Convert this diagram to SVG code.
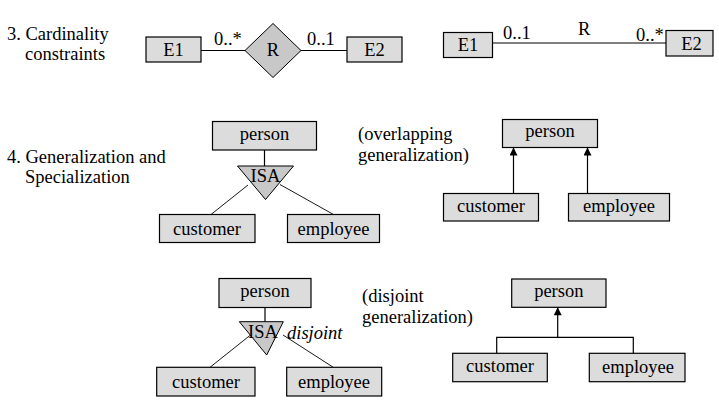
<svg xmlns="http://www.w3.org/2000/svg" width="719" height="406" viewBox="0 0 719 406">
<defs>
<marker id="arr" viewBox="0 0 10 10" refX="10" refY="5" markerWidth="10" markerHeight="8" markerUnits="userSpaceOnUse" orient="auto">
<path d="M0,0 L10,5 L0,10 z" fill="#000"/>
</marker>
</defs>
<style>
text{font-family:"Liberation Serif","Times New Roman",serif;font-size:18.5px;fill:#000}
.c{text-anchor:middle}
.box{fill:#dcdcdc;stroke:#000;stroke-width:1.2}
.shape{fill:#c8c8c8;stroke:#000;stroke-width:1}
.ln{stroke:#000;stroke-width:1.2;fill:none}
.thin{stroke:#000;stroke-width:0.9;fill:none}
.it{font-style:italic}
</style>
<rect width="719" height="406" fill="#fff"/>

<g id="labels">
<text x="7" y="40">3. Cardinality</text>
<text x="25" y="60">constraints</text>
<text x="7" y="163">4. Generalization and</text>
<text x="25" y="183">Specialization</text>
<text x="358" y="140">(overlapping</text>
<text x="358" y="161">generalization)</text>
<text x="362" y="302">(disjoint</text>
<text x="362" y="323">generalization)</text>
</g>

<g id="connectors">
<line class="ln" x1="201" y1="50.5" x2="245" y2="50.5"/>
<line class="ln" x1="301" y1="50.5" x2="347" y2="50.5"/>
<line class="ln" x1="492.5" y1="43" x2="666" y2="43"/>
<line class="ln" x1="264.5" y1="150" x2="264.5" y2="166"/>
<line class="thin" x1="248" y1="185" x2="211" y2="214.5"/>
<line class="thin" x1="280" y1="184.5" x2="333.5" y2="214.5"/>
<line class="ln" x1="513.5" y1="193.5" x2="513.5" y2="147.5" marker-end="url(#arr)"/>
<line class="ln" x1="587.5" y1="193.5" x2="587.5" y2="147.5" marker-end="url(#arr)"/>
<line class="ln" x1="265" y1="307.5" x2="265" y2="321.7"/>
<line class="thin" x1="250.5" y1="335" x2="210" y2="367.3"/>
<line class="thin" x1="283" y1="335" x2="333.3" y2="367.3"/>
<polyline class="ln" points="496.7,353.3 496.7,337.3 633.3,337.3 633.3,353.3"/>
<line class="ln" x1="557.7" y1="337.3" x2="557.7" y2="307.3" marker-end="url(#arr)"/>
<text x="214" y="45">0..*</text>
<text x="307" y="45">0..1</text>
<text x="503" y="39">0..1</text>
<text x="578" y="35">R</text>
<text x="636" y="41">0..*</text>
</g>

<g id="e1-a"><rect class="box" x="146" y="37" width="55" height="25"/><text class="c" x="173.5" y="55.5">E1</text></g>
<g id="r-a"><polygon class="shape" points="245,50.5 273,23.5 301,50.5 273,77.5"/><text class="c" x="273" y="56">R</text></g>
<g id="e2-a"><rect class="box" x="347" y="37" width="55" height="25"/><text class="c" x="374.5" y="55.5">E2</text></g>

<g id="e1-b"><rect class="box" x="443.5" y="32.5" width="49" height="25"/><text class="c" x="468" y="50.5">E1</text></g>
<g id="e2-b"><rect class="box" x="666" y="30.5" width="47" height="25.5"/><text class="c" x="691.5" y="49.5">E2</text></g>

<g id="person-1"><rect class="box" x="212.5" y="121.5" width="104" height="28.5"/><text class="c" x="264.5" y="139.5">person</text></g>
<g id="isa-1"><polygon class="shape" points="237.5,166 293.5,166 265.5,199.5"/><text class="c" x="265.5" y="182">ISA</text></g>
<g id="customer-1"><rect class="box" x="159.5" y="214.5" width="95.5" height="28"/><text class="c" x="207" y="234.5">customer</text></g>
<g id="employee-1"><rect class="box" x="287.5" y="214.5" width="92" height="28"/><text class="c" x="333.5" y="234.5">employee</text></g>

<g id="person-2"><rect class="box" x="502.5" y="119.5" width="95" height="28"/><text class="c" x="550" y="137">person</text></g>
<g id="customer-2"><rect class="box" x="443.5" y="193.5" width="95" height="27.5"/><text class="c" x="491" y="212">customer</text></g>
<g id="employee-2"><rect class="box" x="568.5" y="193.5" width="101" height="27.5"/><text class="c" x="619" y="212">employee</text></g>

<g id="person-3"><rect class="box" x="219" y="278.5" width="92" height="29"/><text class="c" x="265" y="296.5">person</text></g>
<g id="isa-2"><polygon class="shape" points="239.3,321.7 283.3,321.7 266.7,355"/><text class="c" x="263" y="338">ISA</text><text class="it" x="287" y="339">disjoint</text></g>
<g id="customer-3"><rect class="box" x="156.7" y="367.3" width="98.3" height="28.7"/><text class="c" x="206" y="388">customer</text></g>
<g id="employee-3"><rect class="box" x="286.7" y="367.3" width="95" height="28.7"/><text class="c" x="334" y="388">employee</text></g>

<g id="person-4"><rect class="box" x="511.7" y="279" width="94.3" height="28.3"/><text class="c" x="558.8" y="296.5">person</text></g>
<g id="customer-4"><rect class="box" x="452.7" y="353.3" width="94.6" height="28.4"/><text class="c" x="500" y="372">customer</text></g>
<g id="employee-4"><rect class="box" x="589.3" y="353.3" width="95.7" height="28.4"/><text class="c" x="638" y="373">employee</text></g>
</svg>
